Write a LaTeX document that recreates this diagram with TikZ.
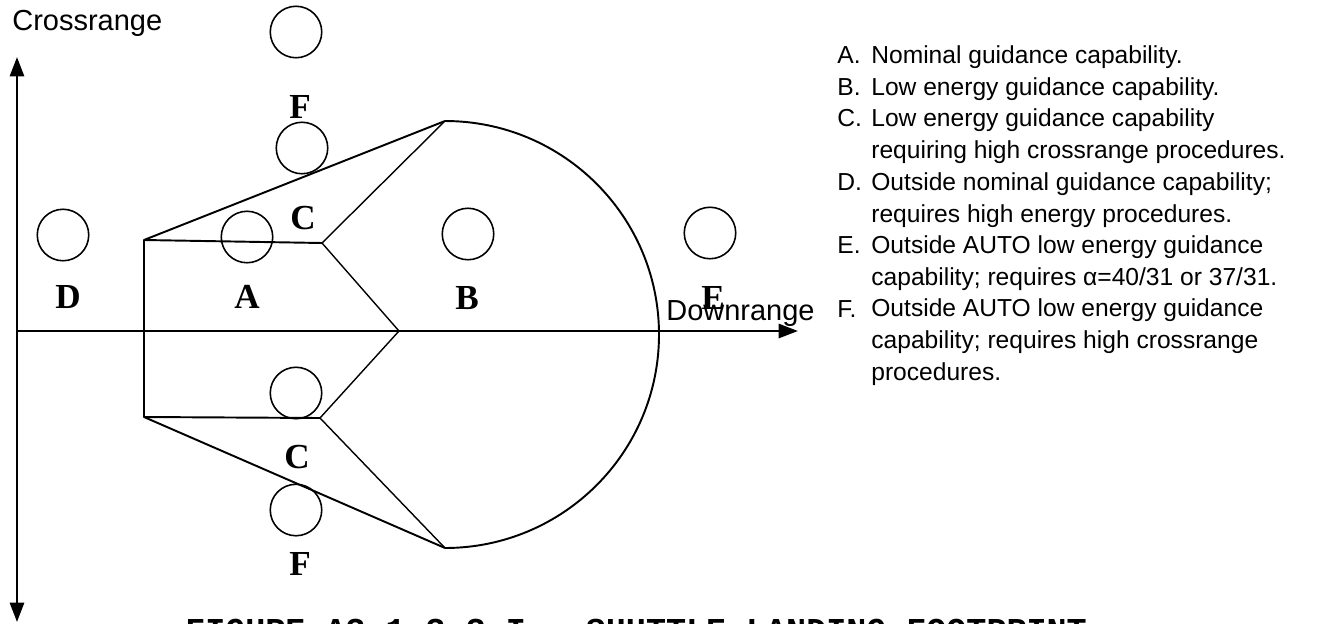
\documentclass[tikz,border=0pt]{standalone}
\usepackage{fontspec}
\setmainfont{Liberation Sans}
\newfontfamily\tagfont{Liberation Serif}
\newfontfamily\capfont{Liberation Mono}
\usetikzlibrary{arrows.meta}

\begin{document}
\begin{tikzpicture}[x=0.02cm, y=-0.02cm,
  >={Triangle[length=11pt, width=8pt]},
  zone/.style={draw, circle, line width=0.9pt, minimum size=1.03cm, inner sep=0pt},
  tag/.style={font=\tagfont\bfseries\fontsize{20}{24}\selectfont, inner sep=0pt, anchor=base},
  axisline/.style={line width=1.5pt},
  rim/.style={line width=1.1pt, line join=round},
  seam/.style={line width=0.8pt},
  note/.style={font=\fontsize{14}{18}\selectfont, inner sep=0pt, anchor=base west, align=left}
]
\useasboundingbox (0,0) rectangle (1322,623);

% axes
\coordinate (org) at (17,331);
\coordinate (ytop) at (17,57);
\coordinate (ybot) at (17,622);
\coordinate (xend) at (798,331);
\draw[axisline, <->] (ybot) -- (ytop);
\draw[axisline, ->] (org) -- (xend);
\node[inner sep=0pt, anchor=base west, font=\fontsize{16.5}{20}\selectfont] (cr) at (12,30) {Crossrange};
\node[inner sep=0pt, anchor=base west, font=\fontsize{16.5}{20}\selectfont] (dr) at (666,320) {Downrange};

% footprint
\coordinate (nw) at (144,240);
\coordinate (sw) at (144,417);
\coordinate (ni) at (322,243);
\coordinate (si) at (320,418);
\coordinate (nose) at (399,331);
\coordinate (nt) at (445,121);
\coordinate (st) at (445,548);
\draw[rim] (nt) -- (nw) -- (sw) -- (st);
\draw[rim] (nt) arc[start angle=-90, end angle=90, x radius=214, y radius=213.5];
\draw[rim] (nw) -- (ni);
\draw[rim] (sw) -- (si);
\draw[seam] (nt) -- (ni) -- (nose) -- (si) -- (st);

% landing zones
\node[zone] (zf1) at (296,32) {};
\node[zone] (zc1) at (302,148) {};
\node[zone] (zd) at (63,235) {};
\node[zone] (za) at (247,237) {};
\node[zone] (zb) at (468,234) {};
\node[zone] (ze) at (710,233) {};
\node[zone] (zc2) at (296,393) {};
\node[zone] (zf2) at (296,510) {};

\node[tag] (tf1) at (300,118) {F};
\node[tag] (tc1) at (303,229) {C};
\node[tag] (td) at (68,308) {D};
\node[tag] (ta) at (247,308) {A};
\node[tag] (tb) at (467,309) {B};
\node[tag] (te) at (713,309) {E};
\node[tag] (tc2) at (297,468) {C};
\node[tag] (tf2) at (300,575) {F};

% legend (multi-line notes sit on their last baseline)
\node[note] (la) at (837,63) {A.};
\node[note] (na) at (871,63) {Nominal guidance capability.};
\node[note] (lb) at (837,95) {B.};
\node[note] (nb) at (871,95) {Low energy guidance capability.};
\node[note] (lc) at (837,126) {C.};
\node[note] (nc) at (871,158) {Low energy guidance capability\\requiring high crossrange procedures.};
\node[note] (ld) at (837,190) {D.};
\node[note] (nd) at (871,222) {Outside nominal guidance capability;\\requires high energy procedures.};
\node[note] (le) at (837,253) {E.};
\node[note] (ne) at (871,285) {Outside AUTO low energy guidance\\capability; requires α=40/31 or 37/31.};
\node[note] (lf) at (837,317) {F.};
\node[note] (nf) at (871,380) {Outside AUTO low energy guidance\\capability; requires high crossrange\\procedures.};

% caption
\node[inner sep=0pt, anchor=base west, font=\capfont\bfseries\fontsize{19}{23}\selectfont] (cap) at (185,641) {FIGURE A3-1-3-3-I.- SHUTTLE LANDING FOOTPRINT};
\end{tikzpicture}
\end{document}
